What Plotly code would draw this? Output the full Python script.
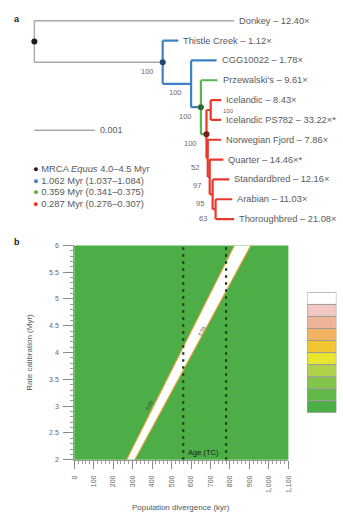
import plotly.graph_objects as go

# ---------------- Panel a data (phylogeny) ----------------
tip_names = ["Donkey", "Thistle Creek", "CGG10022", "Przewalski's", "Icelandic",
             "Icelandic PS782", "Norwegian Fjord", "Quarter", "Standardbred",
             "Arabian", "Thoroughbred"]
tip_coverage = ["12.40×", "1.12×", "1.78×", "9.61×", "8.43×", "33.22×*", "7.86×",
                "14.46×*", "12.16×", "11.03×", "21.08×"]
tip_depth = [0.003290, 0.002371, 0.003000, 0.003016, 0.003076, 0.003076, 0.003076,
             0.003113, 0.003210, 0.003258, 0.003290]

node_names = ["root", "N1", "N2", "N3", "N4", "Nice", "N5", "N6", "N7", "N8"]
node_depth = [0.0, 0.002113, 0.002581, 0.002742, 0.002834, 0.002903, 0.002855,
              0.002887, 0.002935, 0.002984]
node_children = [["Donkey", "N1"], ["Thistle Creek", "N2"], ["CGG10022", "N3"],
                 ["Przewalski's", "N4"], ["Nice", "N5"], ["Icelandic", "Icelandic PS782"],
                 ["Norwegian Fjord", "N6"], ["Quarter", "N7"], ["Standardbred", "N8"],
                 ["Arabian", "Thoroughbred"]]
node_support = [None, "100", "100", "100", "100", "100", "52", "97", "95", "63"]
node_clade = ["out", "blue", "blue", "green", "red", "red", "red", "red", "red", "red"]

calibrated_nodes = ["root", "N1", "N3", "N4"]
calibration_labels = ["MRCA <i>Equus</i> 4.0–4.5 Myr", "1.062 Myr (1.037–1.084)",
                      "0.359 Myr (0.341–0.375)", "0.287 Myr (0.276–0.307)"]
scale_bar_length = 0.001

# ---------------- Panel b data (contour) ----------------
rate_calib = [2, 3, 4, 5, 6]
band_lower_kyr = [269, 407, 546, 684, 823]
band_upper_kyr = [311, 460, 609, 758, 907]
age_tc_kyr = [560, 780]
x_tick_vals = list(range(0, 1101, 100))
y_tick_vals = [2, 2.5, 3, 3.5, 4, 4.5, 5, 5.5, 6]
contour_label_pts = [(386, 3.02), (655, 4.40)]
contour_label_text = "0.05"
level_colors_top_down = ["#ffffff", "#f3c7c1", "#efb497", "#f4b263", "#f2c630",
                         "#e9e62e", "#b0d24a", "#80c449", "#60b947", "#4cae46"]

# ---------------- styles ----------------
FONT = "Liberation Sans, Arial, sans-serif"
clade_line = {"out": "#a9a9a9", "blue": "#3f80c6", "green": "#52b84c", "red": "#e8382d"}
clade_width = {"out": 1.4, "blue": 2.2, "green": 2.2, "red": 2.2}
node_dot_color = {"root": "#1d1d1d", "N1": "#25466f", "N3": "#2f6a2c", "N4": "#7a1f16"}
legend_dot_color = ["#1d1d1d", "#3f80c6", "#52b84c", "#e8382d"]
GREEN_BG = "#4dae48"

W, H = 343, 519

# ---------- tree layout ----------
pos_y = {n: i for i, n in enumerate(tip_names)}
pos_x = {n: d for n, d in zip(tip_names, tip_depth)}
node_idx = {n: i for i, n in enumerate(node_names)}
for n, d in zip(node_names, node_depth):
    pos_x[n] = d


def get_y(n):
    if n in pos_y:
        return pos_y[n]
    ch = node_children[node_idx[n]]
    y = sum(get_y(c) for c in ch) / len(ch)
    pos_y[n] = y
    return y


for n in node_names:
    get_y(n)

segs = {k: ([], []) for k in clade_line}
for n, ch, cl in zip(node_names, node_children, node_clade):
    xs, ys = segs[cl]
    cy = [pos_y[c] for c in ch]
    xs += [pos_x[n], pos_x[n], None]
    ys += [min(cy), max(cy), None]
    for c in ch:
        xs += [pos_x[n], pos_x[c], None]
        ys += [pos_y[c], pos_y[c], None]

fig = go.Figure()
for cl in ["out", "blue", "green", "red"]:
    xs, ys = segs[cl]
    fig.add_trace(go.Scatter(x=xs, y=ys, mode="lines", xaxis="x", yaxis="y",
                             line=dict(color=clade_line[cl], width=clade_width[cl]),
                             hoverinfo="skip", showlegend=False))

fig.add_trace(go.Scatter(
    x=[pos_x[n] for n in calibrated_nodes], y=[pos_y[n] for n in calibrated_nodes],
    mode="markers", xaxis="x", yaxis="y",
    marker=dict(size=6, color=[node_dot_color[n] for n in calibrated_nodes]),
    hoverinfo="skip", showlegend=False))

annotations = []
# tip labels
for n, cov in zip(tip_names, tip_coverage):
    annotations.append(dict(x=pos_x[n], y=pos_y[n], xref="x", yref="y",
                            text=f"{n} – {cov}", showarrow=False, xanchor="left",
                            yanchor="middle", xshift=3,
                            font=dict(size=9.3, color="#5a5a5a", family=FONT)))
# bootstrap
for n, s in zip(node_names, node_support):
    if s is None:
        continue
    if n == "Nice":
        annotations.append(dict(x=pos_x[n], y=pos_y[n], xref="x", yref="y", text=s,
                                showarrow=False, xanchor="left", yanchor="middle",
                                xshift=10, yshift=-1,
                                font=dict(size=6, color="#6a6a6a", family=FONT)))
    else:
        annotations.append(dict(x=pos_x[n], y=pos_y[n], xref="x", yref="y", text=s,
                                showarrow=False, xanchor="right", yanchor="middle",
                                xshift=-7, yshift=-9,
                                font=dict(size=7.5, color="#6a6a6a", family=FONT)))

# scale bar
shapes = [dict(type="line", xref="x", yref="y", x0=0, x1=scale_bar_length,
               y0=5.52, y1=5.52, line=dict(color="#a9a9a9", width=1.4))]
annotations.append(dict(x=scale_bar_length, y=5.52, xref="x", yref="y",
                        text=str(scale_bar_length), showarrow=False, xanchor="left",
                        yanchor="middle", xshift=3,
                        font=dict(size=9, color="#5a5a5a", family=FONT)))
# calibration legend
for i, (lab, col) in enumerate(zip(calibration_labels, legend_dot_color)):
    annotations.append(dict(x=28 / W, y=1 - (167 + 11.7 * i) / H, xref="paper",
                            yref="paper",
                            text=f"<span style='color:{col}'>●</span> {lab}",
                            showarrow=False, xanchor="left", yanchor="middle",
                            font=dict(size=9.4, color="#5a5a5a", family=FONT)))

# panel letters
annotations.append(dict(x=8 / W, y=1 - 15 / H, xref="paper", yref="paper", text="<b>a</b>",
                        showarrow=False, xanchor="left", yanchor="middle",
                        font=dict(size=9, color="#222", family=FONT)))
annotations.append(dict(x=8 / W, y=1 - 241 / H, xref="paper", yref="paper", text="<b>b</b>",
                        showarrow=False, xanchor="left", yanchor="middle",
                        font=dict(size=9, color="#222", family=FONT)))

# ---------------- panel b ----------------
shapes.append(dict(type="rect", xref="x2 domain", yref="y2 domain", x0=0, x1=1, y0=0,
                   y1=1, fillcolor=GREEN_BG, line=dict(width=0), layer="below"))

fig.add_trace(go.Scatter(x=band_lower_kyr + band_upper_kyr[::-1],
                         y=rate_calib + rate_calib[::-1], xaxis="x2", yaxis="y2",
                         mode="lines", fill="toself", fillcolor="#ffffff",
                         line=dict(width=0, color="#ffffff"), hoverinfo="skip",
                         showlegend=False))
for edge in (band_lower_kyr, band_upper_kyr):
    fig.add_trace(go.Scatter(x=edge, y=rate_calib, xaxis="x2", yaxis="y2", mode="lines",
                             line=dict(color="#eea238", width=1.1), hoverinfo="skip",
                             showlegend=False))

for a in age_tc_kyr:
    fig.add_trace(go.Scatter(x=[a, a], y=[rate_calib[0], rate_calib[-1]], xaxis="x2",
                             yaxis="y2", mode="lines",
                             line=dict(color="#1d3a1b", width=2.2, dash="2.5px,4.5px"),
                             hoverinfo="skip", showlegend=False))

annotations.append(dict(x=age_tc_kyr[0], y=2.13, xref="x2", yref="y2", text="Age (TC)",
                        showarrow=False, xanchor="left", yanchor="middle", xshift=3,
                        font=dict(size=7.5, color="#1a1a1a", family=FONT)))
for (cx, cy) in contour_label_pts:
    annotations.append(dict(x=cx, y=cy, xref="x2", yref="y2", text=contour_label_text,
                            showarrow=False, textangle=-62,
                            font=dict(size=5, color="#333", family=FONT)))

# axis titles
annotations.append(dict(x=181 / W, y=1 - 510 / H, xref="paper", yref="paper",
                        text="Population divergence (kyr)", showarrow=False,
                        xanchor="center", yanchor="middle",
                        font=dict(size=8, color="#555", family=FONT)))
annotations.append(dict(x=26 / W, y=1 - 353 / H, xref="paper", yref="paper",
                        text="Rate calibration (Myr)", showarrow=False, textangle=-90,
                        xanchor="center", yanchor="middle",
                        font=dict(size=8, color="#555", family=FONT)))

# colour key
n_lv = len(level_colors_top_down)
bottom_up = level_colors_top_down[::-1]
fig.add_trace(go.Bar(x=[0] * n_lv, y=[1] * n_lv, base=list(range(n_lv)), width=1,
                     xaxis="x3", yaxis="y3",
                     marker=dict(color=bottom_up, line=dict(color="#9c9c9c", width=1)),
                     hoverinfo="skip", showlegend=False))

fig.update_layout(
    width=W, height=H, margin=dict(l=0, r=0, t=0, b=0),
    paper_bgcolor="white", plot_bgcolor="white",
    font=dict(family=FONT, size=8, color="#555"),
    showlegend=False,
    xaxis=dict(domain=[0, 1], range=[-31 / 62000, 312 / 62000], visible=False),
    yaxis=dict(domain=[1 - 232 / H, 1], range=[10.696, -0.846], visible=False),
    xaxis2=dict(domain=[71.7 / W, 290.3 / W], range=[0, 1100], anchor="y2",
                tickvals=x_tick_vals, tickformat=",", tickangle=-90,
                ticks="outside", ticklen=8, tickwidth=1, tickcolor="#8a8a8a",
                showline=True, linecolor="#9a9a9a", linewidth=1,
                showgrid=False, zeroline=False,
                tickfont=dict(size=7, color="#666", family=FONT),
                minor=dict(dtick=20, ticks="outside", ticklen=3, tickcolor="#9a9a9a",
                           showgrid=False),
                ticklabelstandoff=4),
    yaxis2=dict(domain=[1 - 462 / H, 1 - 244.7 / H], range=[2, 6], anchor="x2",
                tickvals=y_tick_vals, ticks="outside", ticklen=10, tickwidth=1,
                tickcolor="#8a8a8a", showline=True, linecolor="#9a9a9a", linewidth=1,
                showgrid=False, zeroline=False,
                tickfont=dict(size=7, color="#666", family=FONT),
                minor=dict(dtick=0.1, ticks="outside", ticklen=3, tickcolor="#9a9a9a",
                           showgrid=False),
                ticklabelstandoff=3),
    xaxis3=dict(domain=[309.3 / W, 339.3 / W], range=[-0.5, 0.5], anchor="y3",
                visible=False, fixedrange=True),
    yaxis3=dict(domain=[1 - 414.3 / H, 1 - 292.3 / H], range=[0, n_lv], anchor="x3",
                visible=False, fixedrange=True),
    annotations=annotations,
    shapes=shapes,
)

fig.write_html("out.html", config={"displayModeBar": False},
               post_script="document.body.style.margin='0';document.body.style.overflow='hidden';")
